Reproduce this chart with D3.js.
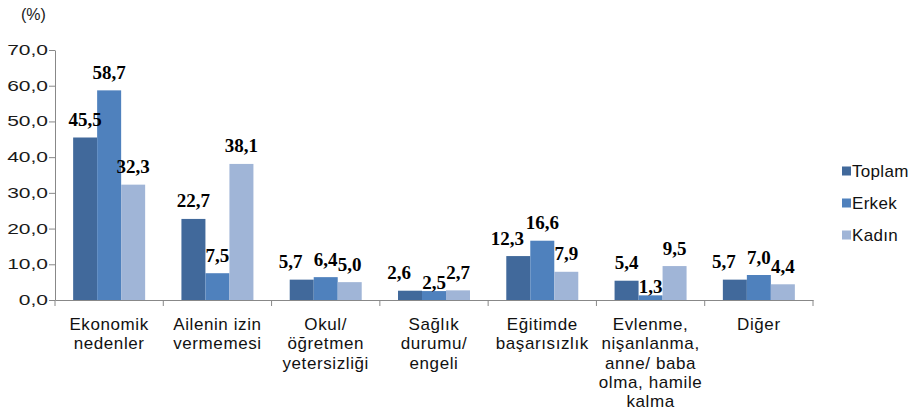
<!DOCTYPE html>
<html lang="tr">
<head>
<meta charset="UTF-8">
<title>Okul terk nedenleri</title>
<script src="https://d3js.org/d3.v7.min.js"></script>
<style>
  body { margin: 0; background: #fff; }
  svg { display: block; }
</style>
</head>
<body>
<script>
// data
var categories = [
  ["Ekonomik", "nedenler"],
  ["Ailenin izin", "vermemesi"],
  ["Okul/", "öğretmen", "yetersizliği"],
  ["Sağlık", "durumu/", "engeli"],
  ["Eğitimde", "başarısızlık"],
  ["Evlenme,", "nişanlanma,", "anne/ baba", "olma, hamile", "kalma"],
  ["Diğer"]
];
var seriesNames = ["Toplam", "Erkek", "Kadın"];
var toplam = [45.5, 22.7, 5.7, 2.6, 12.3, 5.4, 5.7];
var erkek  = [58.7, 7.5, 6.4, 2.5, 16.6, 1.3, 7.0];
var kadin  = [32.3, 38.1, 5.0, 2.7, 7.9, 9.5, 4.4];
var yTicks = [0, 10, 20, 30, 40, 50, 60, 70];

var width = 919, height = 416;
var colors = ["#41699b", "#4f81bd", "#a0b5d7"];
var values = [toplam, erkek, kadin];

var svg = d3.select("body").append("svg")
  .attr("width", width)
  .attr("height", height);

var x0 = d3.scaleBand()
  .domain(d3.range(categories.length))
  .range([55, 813]);

var x1 = d3.scaleBand()
  .domain(d3.range(seriesNames.length))
  .range([0, 72]);

var y = d3.scaleLinear()
  .domain([0, 70])
  .range([300, 50]);

// y axis
var yAxis = svg.append("g")
  .attr("transform", "translate(55,0)")
  .call(d3.axisLeft(y).tickValues(yTicks).tickSize(6).tickSizeOuter(0)
    .tickFormat(function(d) { return d3.format(".1f")(d).replace(".", ","); }));
yAxis.select(".domain").attr("stroke", "#888");
yAxis.selectAll(".tick line").attr("stroke", "#888");
yAxis.selectAll(".tick text")
  .attr("x", 0)
  .attr("font-family", "Liberation Sans, Arial, sans-serif")
  .attr("font-size", 14)
  .attr("fill", "#1a1a1a")
  .attr("transform", "translate(-7,0) scale(1.5,1)");

// x axis
var xAxis = svg.append("g")
  .attr("transform", "translate(0,300)")
  .call(d3.axisBottom(x0).tickSize(0).tickSizeOuter(0).tickFormat(""));
xAxis.select(".domain").attr("stroke", "#888");
xAxis.selectAll(".tick").remove();

// x tick marks on band edges
svg.append("g").selectAll("line")
  .data(d3.range(categories.length + 1))
  .join("line")
  .attr("x1", function(i) { return i < categories.length ? x0(i) : x0.range()[1]; })
  .attr("x2", function(i) { return i < categories.length ? x0(i) : x0.range()[1]; })
  .attr("y1", 300)
  .attr("y2", 306)
  .attr("stroke", "#888");

// category labels
svg.append("g").selectAll("text")
  .data(categories)
  .join("text")
  .attr("x", function(d, i) { return x0(i) + x0.bandwidth() / 2; })
  .attr("y", 330)
  .attr("text-anchor", "middle")
  .attr("font-family", "Liberation Sans, Arial, sans-serif")
  .attr("font-size", 17)
  .attr("letter-spacing", 0.6)
  .attr("fill", "#111")
  .each(function(lines) {
    var t = d3.select(this);
    lines.forEach(function(l, k) {
      t.append("tspan")
        .attr("x", t.attr("x"))
        .attr("dy", k === 0 ? 0 : 19.3)
        .text(l);
    });
  });

// bars
var groups = svg.append("g").selectAll("g")
  .data(categories)
  .join("g")
  .attr("transform", function(d, i) {
    return "translate(" + (x0(i) + (x0.bandwidth() - 72) / 2) + ",0)";
  });

groups.selectAll("rect")
  .data(function(d, i) { return values.map(function(v, s) { return { s: s, v: v[i] }; }); })
  .join("rect")
  .attr("x", function(d) { return x1(d.s); })
  .attr("width", x1.bandwidth())
  .attr("y", function(d) { return y(d.v); })
  .attr("height", function(d) { return y(0) - y(d.v); })
  .attr("fill", function(d) { return colors[d.s]; });

// value labels, with a rough collision rule like the original:
// middle label drops when it sits under both neighbours, left label moves aside when close
groups.each(function(d, i) {
  var base = values.map(function(v) { return y(v[i]) - 11.5; });
  var dx = [0, 0, 0];
  var lowerNb = Math.max(base[0], base[2]);
  if (base[1] >= lowerNb && base[1] - lowerNb < 16) base[1] += 9;
  if (Math.abs(base[1] - base[0]) < 16) dx[0] = -11;
  d3.select(this).selectAll("text.val")
    .data(values.map(function(v, s) { return { s: s, v: v[i] }; }))
    .join("text")
    .attr("class", "val")
    .attr("x", function(e) { return x1(e.s) + x1.bandwidth() / 2 + dx[e.s]; })
    .attr("y", function(e) { return base[e.s]; })
    .attr("text-anchor", "middle")
    .attr("font-family", "Liberation Serif, Times New Roman, serif")
    .attr("font-weight", "bold")
    .attr("font-size", 19)
    .attr("fill", "#000")
    .text(function(e) { return d3.format(".1f")(e.v).replace(".", ","); });
});

// unit label
svg.append("text")
  .attr("x", 21)
  .attr("y", 20)
  .attr("font-family", "Liberation Sans, Arial, sans-serif")
  .attr("font-size", 16)
  .attr("fill", "#1a1a1a")
  .text("(%)");

// legend
var legend = svg.append("g").selectAll("g")
  .data(seriesNames)
  .join("g")
  .attr("transform", function(d, i) { return "translate(842," + (171 + i * 32) + ")"; });
legend.append("rect")
  .attr("x", 0).attr("y", -4.5)
  .attr("width", 9).attr("height", 9)
  .attr("fill", function(d, i) { return colors[i]; });
legend.append("text")
  .attr("x", 10)
  .attr("y", 6)
  .attr("font-family", "Liberation Sans, Arial, sans-serif")
  .attr("font-size", 17)
  .attr("letter-spacing", 0.3)
  .attr("fill", "#111")
  .text(function(d) { return d; });
</script>
</body>
</html>
